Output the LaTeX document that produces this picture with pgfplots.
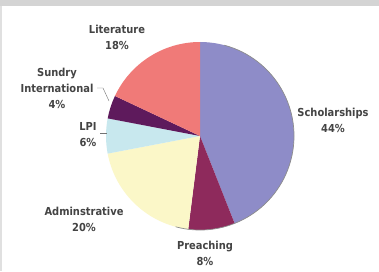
\documentclass[border=0pt]{standalone}
\usepackage{pgfplots}
\usepackage{pgfplotstable}
\pgfplotsset{compat=1.18}
\usepackage{fontspec}
\setmainfont{DejaVu Sans Condensed}
\definecolor{cSch}{HTML}{8E8CC8}
\definecolor{cPre}{HTML}{8E2A5C}
\definecolor{cAdm}{HTML}{FBF7C8}
\definecolor{cLPI}{HTML}{C8E8EE}
\definecolor{cSun}{HTML}{5E1A5C}
\definecolor{cLit}{HTML}{F07A78}
\definecolor{txt}{HTML}{444444}
\pgfplotstableread{
label value col
Scholarships 44 cSch
Preaching 8 cPre
Adminstrative 20 cAdm
LPI 6 cLPI
Sundry 4 cSun
Literature 18 cLit
}\piedata
\begin{document}
\begin{tikzpicture}
\begin{axis}[
  x=1pt, y=1pt, xmin=0, xmax=379, ymin=0, ymax=271,
  scale only axis, hide axis, enlargelimits=false, clip=false]
\fill[white] (axis cs:0,0) rectangle (axis cs:379,271);
\fill[black!17] (axis cs:0,265) rectangle (axis cs:379,271);
\fill[black!12] (axis cs:0,0) rectangle (axis cs:2,265);
\pgfplotstablegetrowsof{\piedata}
\pgfmathtruncatemacro\N{\pgfplotsretval-1}
\gdef\cum{90}
\pgfplotsinvokeforeach{0,...,\N}{
  \pgfplotstablegetelem{#1}{value}\of\piedata
  \pgfmathsetmacro\a{\cum}
  \pgfmathsetmacro\b{\cum-3.6*\pgfplotsretval}
  \pgfplotstablegetelem{#1}{col}\of\piedata
  \let\col\pgfplotsretval
  \edef\tmp{\noexpand\fill[\col] (axis cs:200,135) -- ++(\a:94pt) arc[start angle=\a, end angle=\b, radius=94pt] -- cycle;}
  \tmp
  \xdef\cum{\b}
}
\draw[black!45, line width=0.7pt] (axis cs:200,135) ++(75:94pt) arc[start angle=75, end angle=-105, radius=94pt];
\draw[black!55, line width=0.4pt] (axis cs:97,183) -- (axis cs:103,183) -- (axis cs:109,170);
\draw[black!55, line width=0.4pt] (axis cs:100,138) -- (axis cs:107,138);
\begin{scope}[every node/.style={font=\fontsize{11}{16}\selectfont\bfseries, text=txt, align=center, inner sep=0pt}]
\node at (axis cs:117,234) {Literature\\18\%};
\node at (axis cs:57,183) {Sundry\\International\\4\%};
\node at (axis cs:88,136) {LPI\\6\%};
\node at (axis cs:84,52) {Adminstrative\\20\%};
\node at (axis cs:205,18) {Preaching\\8\%};
\node at (axis cs:333,151) {Scholarships\\44\%};
\end{scope}
\end{axis}
\end{tikzpicture}
\end{document}
